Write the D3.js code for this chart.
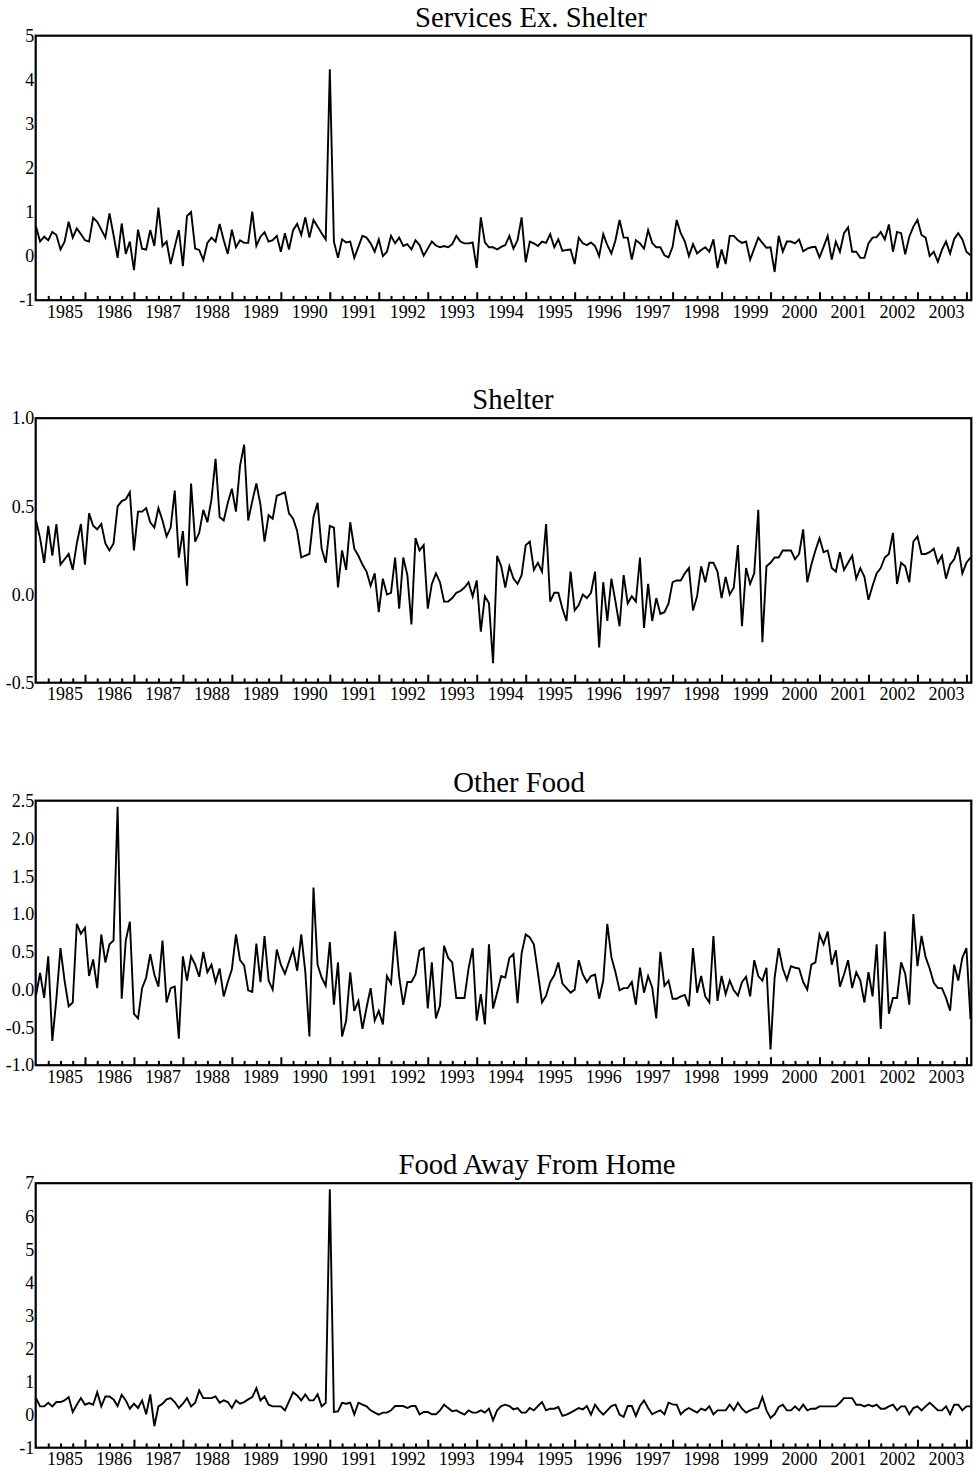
<!DOCTYPE html>
<meta charset="utf-8">

<!-- Load d3.js -->
<script src="https://d3js.org/d3.v7.min.js"></script>

<style>
  body { margin: 0; background: #fff; }
  svg text { font-family: "Liberation Serif", "Times New Roman", Times, serif; fill: #000; }
</style>

<svg id="my_dataviz" width="973" height="1471"></svg>

<script>

// ---- data -------------------------------------------------------------
// monthly observations, first one is January 1985
var startYear = 1985;

var titles = ["Services Ex. Shelter", "Shelter", "Other Food", "Food Away From Home"];

var yDomains = [[-1, 5], [-0.5, 1.0], [-1.0, 2.5], [-1, 7]];
var yTicks = [
  [-1, 0, 1, 2, 3, 4, 5],
  [-0.5, 0.0, 0.5, 1.0],
  [-1.0, -0.5, 0.0, 0.5, 1.0, 1.5, 2.0, 2.5],
  [-1, 0, 1, 2, 3, 4, 5, 6, 7]
];
var yDecimals = [0, 1, 1, 0];

var yearLabels = [1985, 1986, 1987, 1988, 1989, 1990, 1991, 1992, 1993, 1994,
                  1995, 1996, 1997, 1998, 1999, 2000, 2001, 2002, 2003];

var servicesExShelter = [
  0.67,0.33,0.44,0.36,0.55,0.48,0.15,0.33,0.78,0.42,0.63,0.50,
  0.36,0.33,0.87,0.78,0.60,0.42,0.97,0.48,-0.04,0.74,0.05,0.33,
  -0.32,0.60,0.17,0.15,0.59,0.23,1.10,0.23,0.33,-0.18,0.21,0.59,
  -0.23,0.91,1.00,0.17,0.14,-0.09,0.30,0.42,0.33,0.73,0.36,0.05,
  0.60,0.20,0.36,0.30,0.30,1.01,0.23,0.44,0.54,0.33,0.36,0.46,
  0.10,0.52,0.15,0.59,0.73,0.48,0.88,0.42,0.82,0.67,0.52,0.38,
  4.24,
  0.33,-0.04,0.38,0.31,0.33,-0.04,0.21,0.46,0.42,0.29,0.10,0.38,
  0.00,0.10,0.46,0.29,0.42,0.23,0.27,0.15,0.36,0.25,0.01,0.17,
  0.33,0.24,0.20,0.23,0.20,0.27,0.46,0.33,0.29,0.29,0.31,-0.27,
  0.88,0.31,0.20,0.20,0.15,0.21,0.25,0.46,0.17,0.36,0.88,-0.14,
  0.33,0.29,0.23,0.33,0.30,0.50,0.20,0.38,0.12,0.14,0.15,-0.18,
  0.42,0.29,0.25,0.31,0.23,0.00,0.50,0.25,0.06,0.36,0.82,0.42,
  0.42,-0.08,0.36,0.29,0.17,0.59,
  0.30,0.20,0.20,0.02,-0.03,0.21,0.82,0.52,0.33,0.00,
  0.27,0.06,0.14,0.20,0.10,0.38,-0.27,0.15,-0.18,0.46,
  0.46,0.36,0.30,0.33,-0.08,0.17,0.42,0.30,0.19,0.20,
  -0.36,0.46,0.10,0.33,0.33,0.29,0.38,0.11,0.17,0.20,
  0.21,-0.03,0.21,0.46,-0.08,0.33,0.10,0.52,0.65,0.10,
  0.10,-0.04,-0.04,0.29,0.42,0.43,0.55,0.38,0.72,0.10,
  0.55,0.52,0.04,0.44,0.67,0.82,0.48,0.42,0.00,0.10,
  -0.13,0.14,0.33,0.06,0.39,0.52,0.38,0.10,0.02
];

var shelter = [
  0.42,0.32,0.18,0.39,0.22,0.40,0.17,0.20,0.23,0.14,0.29,0.40,
  0.17,0.46,0.39,0.37,0.40,0.29,0.25,0.29,0.50,0.53,0.54,0.58,
  0.25,0.47,0.47,0.49,0.41,0.38,0.49,0.42,0.33,0.38,0.59,0.21,
  0.36,0.05,0.63,0.30,0.35,0.48,0.41,0.54,0.77,0.44,0.42,0.52,
  0.60,0.47,0.73,0.85,0.42,0.53,0.63,0.51,0.30,0.45,0.43,0.56,
  0.57,0.58,0.46,0.43,0.36,0.21,0.22,0.23,0.44,0.52,0.26,0.18,
  0.39,0.38,0.04,0.25,0.14,0.41,0.26,0.22,0.17,0.13,0.05,0.12,
  -0.10,0.09,0.00,0.01,0.21,-0.08,0.21,0.11,-0.17,0.32,0.25,0.28,
  -0.08,0.06,0.12,0.07,-0.04,-0.04,-0.02,0.01,0.02,0.04,0.07,-0.01,
  0.08,-0.21,-0.01,-0.05,-0.39,0.22,0.16,0.04,0.16,0.09,0.06,0.11,
  0.28,0.30,0.14,0.18,0.13,0.40,-0.04,0.01,0.01,-0.08,-0.15,0.13,
  -0.09,-0.06,0.00,-0.02,0.01,0.13,-0.30,0.07,-0.15,0.09,-0.04,-0.18,
  0.11,-0.05,-0.01,-0.04,0.21,-0.19,
  0.06,-0.15,-0.02,-0.11,-0.10,-0.05,0.07,0.08,0.08,0.12,
  0.15,-0.09,-0.01,0.16,0.07,0.18,0.18,0.13,-0.02,0.10,
  0.00,0.04,0.28,-0.18,0.15,0.06,0.12,0.48,-0.27,0.16,
  0.18,0.21,0.21,0.25,0.25,0.25,0.20,0.23,0.37,0.07,
  0.17,0.25,0.32,0.24,0.25,0.15,0.13,0.24,0.14,0.18,
  0.22,0.09,0.15,0.10,-0.03,0.05,0.12,0.15,0.21,0.23,
  0.35,0.06,0.18,0.16,0.07,0.30,0.33,0.23,0.23,0.24,
  0.26,0.18,0.22,0.09,0.17,0.20,0.27,0.12,0.18,0.21
];

var otherFood = [
  -0.08,0.22,-0.11,0.44,-0.68,-0.12,0.55,0.12,-0.22,-0.17,0.87,0.74,
  0.82,0.18,0.40,0.02,0.73,0.36,0.60,0.65,2.42,-0.12,0.65,0.90,
  -0.32,-0.38,0.02,0.16,0.47,0.20,0.04,0.65,-0.17,0.02,0.04,-0.65,
  0.44,0.12,0.44,0.33,0.17,0.50,0.23,0.33,0.10,0.28,-0.09,0.10,
  0.27,0.73,0.39,0.32,-0.01,-0.03,0.61,0.10,0.71,0.12,0.00,0.53,
  0.33,0.21,0.37,0.53,0.25,0.73,0.23,-0.62,1.35,0.33,0.16,0.05,
  0.63,-0.20,0.36,-0.62,-0.41,0.23,-0.28,-0.15,-0.52,-0.24,
  0.02,-0.41,-0.28,-0.46,0.18,0.08,0.77,0.17,-0.20,0.10,
  0.10,0.20,0.52,0.55,-0.25,0.36,-0.38,-0.21,0.58,0.42,
  0.36,-0.11,-0.11,-0.11,0.28,0.55,-0.41,-0.06,-0.46,0.60,
  -0.25,-0.04,0.18,0.16,0.42,0.47,-0.18,0.48,0.73,0.69,
  0.60,0.22,-0.17,-0.08,0.10,0.19,0.36,0.08,0.02,-0.04,
  0.00,0.39,0.20,0.10,0.18,0.20,-0.12,0.12,0.87,0.43,
  0.23,-0.01,0.02,0.02,0.10,-0.20,0.29,-0.04,
  0.18,0.03,-0.38,0.50,0.05,0.12,-0.12,-0.12,-0.09,-0.07,
  -0.22,0.55,-0.04,0.18,-0.09,-0.17,0.71,-0.15,0.18,-0.06,
  0.12,-0.01,-0.08,0.10,0.17,-0.09,0.39,0.18,0.12,0.29,
  -0.79,0.16,0.55,0.28,0.13,0.31,0.29,0.28,0.10,0.00,
  0.33,0.36,0.73,0.60,0.77,0.33,0.52,0.04,0.20,0.39,
  0.02,0.23,0.12,-0.17,0.23,-0.09,0.60,-0.52,0.77,-0.32,
  -0.11,-0.11,0.36,0.21,-0.20,1.00,0.31,0.71,0.43,0.28,
  0.09,0.02,0.02,-0.11,-0.28,0.33,0.12,0.42,0.55,-0.39
];

var foodAwayFromHome = [
  0.50,0.25,0.25,0.36,0.25,0.38,0.38,0.43,0.53,0.08,0.30,0.50,
  0.30,0.35,0.30,0.68,0.25,0.55,0.55,0.46,0.26,0.60,0.43,0.18,
  0.33,0.20,0.43,0.01,0.61,-0.35,0.25,0.33,0.46,0.50,0.38,0.20,
  0.33,0.50,0.25,0.36,0.73,0.50,0.50,0.50,0.55,0.36,0.43,0.38,
  0.20,0.43,0.33,0.38,0.46,0.53,0.80,0.43,0.55,0.30,0.25,0.25,
  0.25,0.13,0.40,0.68,0.58,0.43,0.61,0.43,0.43,0.61,0.25,0.36,
  6.82,
  0.08,0.10,0.36,0.33,0.36,0.01,0.36,0.30,0.25,0.13,
  0.06,0.00,0.06,0.06,0.13,0.26,0.26,0.26,0.20,0.26,
  0.26,0.01,0.08,0.08,0.01,0.01,0.13,0.30,0.20,0.10,
  0.13,0.06,0.00,0.13,0.06,0.06,0.13,0.06,0.18,-0.17,
  0.13,0.26,0.30,0.26,0.16,0.20,0.06,0.06,0.20,0.13,
  0.26,0.38,0.13,0.18,0.18,0.23,-0.04,0.00,0.06,0.13,
  0.20,0.16,0.26,0.00,0.30,0.13,0.00,0.13,0.26,0.30,
  0.00,-0.07,0.26,0.26,-0.04,0.26,0.43,
  0.20,
  0.01,0.08,0.13,0.01,0.36,0.31,0.30,0.01,0.13,0.20,
  0.13,0.06,0.18,0.13,0.25,0.01,0.13,0.13,0.13,0.30,
  0.13,0.36,0.18,0.06,0.13,0.18,0.20,0.53,0.13,-0.10,
  0.01,0.23,0.30,0.13,0.13,0.25,0.13,0.30,0.13,0.18,
  0.18,0.25,0.25,0.25,0.25,0.25,0.36,0.50,0.50,0.50,
  0.30,0.30,0.25,0.30,0.25,0.30,0.18,0.18,0.25,0.30,
  0.13,0.25,0.25,0.01,0.20,0.25,0.13,0.25,0.36,0.25,
  0.13,0.13,0.25,0.01,0.30,0.30,0.13,0.25,0.25
];

var seriesList = [servicesExShelter, shelter, otherFood, foodAwayFromHome];

// ---- layout -----------------------------------------------------------
var svg = d3.select("#my_dataviz");

var plotLeft = 35.7,
    plotRight = 971.3,
    firstTop = 35.7,
    panelStep = 382.5,
    panelHeight = 264.5;

var titleCenters = [531, 513, 519, 537];

var lastYear = startYear + 229 / 12;
var x = d3.scaleLinear()
    .domain([startYear, lastYear])
    .range([36, 970.5]);

// year ticks at every Jan 1, quarter ticks between
var majorTicks = d3.range(startYear + 1, 2005);
var minorTicks = [];
yearLabels.forEach(function(yr) {
  [0.25, 0.5, 0.75].forEach(function(q) { minorTicks.push(yr + q); });
});

var serif = '"Liberation Serif", "Times New Roman", Times, serif';

seriesList.forEach(function(values, p) {

  var top = firstTop + p * panelStep,
      bottom = top + panelHeight;

  var y = d3.scaleLinear()
      .domain(yDomains[p])
      .range([bottom, top]);

  var g = svg.append("g").attr("class", "panel");

  // title
  g.append("text")
    .attr("x", titleCenters[p])
    .attr("y", top - 9)
    .attr("text-anchor", "middle")
    .style("font-size", "28.7px")
    .text(titles[p]);

  // y labels (no tick marks on this axis)
  var yAxis = d3.axisLeft(y)
      .tickValues(yTicks[p])
      .tickSize(0)
      .tickPadding(1.5)
      .tickFormat(function(d) { return d.toFixed(yDecimals[p]); });

  var ya = g.append("g")
    .attr("transform", "translate(" + plotLeft + ",0)")
    .call(yAxis);
  ya.select(".domain").remove();
  ya.selectAll("text")
    .attr("font-family", serif)
    .style("font-size", "18px");

  // inward ticks on the date axis
  var major = g.append("g")
    .attr("transform", "translate(0," + bottom + ")")
    .call(d3.axisBottom(x).tickValues(majorTicks).tickSize(-8).tickFormat(""));
  var minor = g.append("g")
    .attr("transform", "translate(0," + bottom + ")")
    .call(d3.axisBottom(x).tickValues(minorTicks).tickSize(-4.3).tickFormat(""));
  [major, minor].forEach(function(a) {
    a.select(".domain").remove();
    a.selectAll("line").attr("stroke", "#000").attr("stroke-width", 2);
  });

  // year labels sit at the right end of each year
  g.selectAll(".yearLabel")
    .data(yearLabels)
    .enter()
    .append("text")
      .attr("class", "yearLabel")
      .attr("x", function(d) { return x(d + 1) - 2; })
      .attr("y", bottom + 17.7)
      .attr("text-anchor", "end")
      .style("font-size", "18px")
      .text(function(d) { return d; });

  // the series
  var line = d3.line()
      .x(function(d, i) { return x(startYear + i / 12); })
      .y(function(d) { return y(d); });

  g.append("path")
    .datum(values)
    .attr("fill", "none")
    .attr("stroke", "#000")
    .attr("stroke-width", 1.9)
    .attr("stroke-linejoin", "miter")
    .attr("d", line);

  // frame
  g.append("rect")
    .attr("x", plotLeft)
    .attr("y", top)
    .attr("width", plotRight - plotLeft)
    .attr("height", panelHeight)
    .attr("fill", "none")
    .attr("stroke", "#000")
    .attr("stroke-width", 2.2);
});

</script>
